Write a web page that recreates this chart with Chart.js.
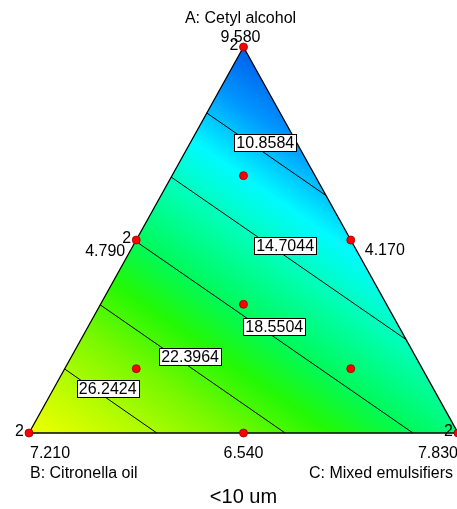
<!DOCTYPE html>
<html>
<head>
<meta charset="utf-8">
<title>&lt;10 um</title>
<script src="https://cdn.jsdelivr.net/npm/chart.js@4.4.1/dist/chart.umd.min.js"></script>
<style>
  html, body { margin: 0; padding: 0; background: #fff; }
  #chart { display: block; }
</style>
</head>
<body>
<canvas id="chart" width="457" height="509"></canvas>
<script>
// Mixture components (A at top, B bottom-left, C bottom-right)
const COMPONENTS = ["A: Cetyl alcohol", "B: Citronella oil", "C: Mixed emulsifiers"];
const RESPONSE_TITLE = "<10 um";

// Axis tick text: A max, A half, B max, B-C mid, C max, A-C mid
const TICK_TEXT = ["9.580", "4.790", "7.210", "6.540", "7.830", "4.170"];

// Linear model response at the pure-component vertices (A, B, C)
const VERTEX_RESPONSE = [6.89, 30.09, 17.2];

// Contour levels and where each one meets the triangle edges (A, B, C fractions)
const CONTOUR_LEVELS = [10.8584, 14.7044, 18.5504, 22.3964, 26.2424];
const CONTOUR_START = [
  [0.829, 0.171, 0],
  [0.663, 0.337, 0],
  [0.497, 0.503, 0],
  [0.332, 0.668, 0],
  [0.166, 0.834, 0],
];
const CONTOUR_END = [
  [0.615, 0, 0.385],
  [0.242, 0, 0.758],
  [0, 0.105, 0.895],
  [0, 0.403, 0.597],
  [0, 0.702, 0.298],
];

// Design points (A, B, C fractions) and how many runs sit on each
const DESIGN_POINTS = [
  [1, 0, 0], [0, 1, 0], [0, 0, 1],
  [0.5, 0.5, 0], [0.5, 0, 0.5], [0, 0.5, 0.5],
  [1 / 3, 1 / 3, 1 / 3],
  [2 / 3, 1 / 6, 1 / 6], [1 / 6, 2 / 3, 1 / 6], [1 / 6, 1 / 6, 2 / 3],
];
const REPLICATES = [2, 2, 2, 2, 1, 1, 1, 1, 1, 1];

// styling
const FONT = "'Liberation Sans', Arial, sans-serif";
const COLOR_STOPS = [
  [6.89, "rgb(0,95,235)"],
  [9.5, "rgb(0,150,255)"],
  [12.5, "rgb(0,250,255)"],
  [15.0, "rgb(0,255,185)"],
  [18.5, "rgb(0,250,90)"],
  [21.0, "rgb(35,248,5)"],
  [24.0, "rgb(120,248,0)"],
  [27.0, "rgb(185,252,0)"],
  [30.09, "rgb(240,255,0)"],
];
const LABEL_POS = [0.49, 0.485, 0.5, 0.486, 0.467]; // fraction along each contour

// ternary (A,B,C) -> plane: B at (0,0), C at (1,0), A at (0.5,1)
const toXY = (t) => ({ x: t[2] + t[0] / 2, y: t[0] });

const pixelOf = (chart, t) => {
  const p = toXY(t);
  return [chart.scales.x.getPixelForValue(p.x), chart.scales.y.getPixelForValue(p.y)];
};

const trianglePath = (ctx, chart) => {
  const a = pixelOf(chart, [1, 0, 0]);
  const b = pixelOf(chart, [0, 1, 0]);
  const c = pixelOf(chart, [0, 0, 1]);
  ctx.beginPath();
  ctx.moveTo(a[0], a[1]);
  ctx.lineTo(b[0], b[1]);
  ctx.lineTo(c[0], c[1]);
  ctx.closePath();
};

// shaded response surface: linear model, so a linear gradient across the triangle
const surfacePlugin = {
  id: "surface",
  beforeDatasetsDraw(chart) {
    const ctx = chart.ctx;
    const P = [pixelOf(chart, [1, 0, 0]), pixelOf(chart, [0, 1, 0]), pixelOf(chart, [0, 0, 1])];
    const f = VERTEX_RESPONSE;
    const [x1, y1] = P[0], [x2, y2] = P[1], [x3, y3] = P[2];
    const det = (x2 - x1) * (y3 - y1) - (x3 - x1) * (y2 - y1);
    const ga = ((f[1] - f[0]) * (y3 - y1) - (f[2] - f[0]) * (y2 - y1)) / det;
    const gb = ((x2 - x1) * (f[2] - f[0]) - (x3 - x1) * (f[1] - f[0])) / det;
    const g2 = ga * ga + gb * gb;
    const vmin = Math.min(...f), vmax = Math.max(...f);
    const start = P[f.indexOf(vmin)];
    const k = (vmax - vmin) / g2;
    const grad = ctx.createLinearGradient(start[0], start[1], start[0] + ga * k, start[1] + gb * k);
    COLOR_STOPS.forEach(([v, col]) => {
      const s = Math.min(1, Math.max(0, (v - vmin) / (vmax - vmin)));
      grad.addColorStop(s, col);
    });
    ctx.save();
    trianglePath(ctx, chart);
    ctx.fillStyle = grad;
    ctx.fill();
    ctx.restore();
  },
  afterDatasetsDraw(chart) {
    const ctx = chart.ctx;
    ctx.save();
    ctx.font = "16px " + FONT;
    ctx.textAlign = "center";
    ctx.textBaseline = "middle";
    CONTOUR_LEVELS.forEach((lvl, i) => {
      const s = pixelOf(chart, CONTOUR_START[i]);
      const e = pixelOf(chart, CONTOUR_END[i]);
      const fr = LABEL_POS[i];
      const cx = s[0] + (e[0] - s[0]) * fr;
      const cy = s[1] + (e[1] - s[1]) * fr - 10.5;
      const txt = lvl.toFixed(4);
      const w = Math.round(ctx.measureText(txt).width + 4);
      const h = 17;
      const bx = Math.round(cx - w / 2) + 0.5, by = Math.round(cy - h / 2) + 0.5;
      ctx.fillStyle = "#fff";
      ctx.fillRect(bx, by, w, h);
      ctx.strokeStyle = "#000";
      ctx.lineWidth = 1;
      ctx.strokeRect(bx, by, w, h);
      ctx.fillStyle = "#000";
      ctx.fillText(txt, cx, cy + 1);
    });
    ctx.restore();
  },
  afterDraw(chart) {
    const ctx = chart.ctx;
    const W = chart.width;
    const A = pixelOf(chart, [1, 0, 0]);
    const B = pixelOf(chart, [0, 1, 0]);
    const AB = pixelOf(chart, [0.5, 0.5, 0]);
    const AC = pixelOf(chart, [0.5, 0, 0.5]);
    const BC = pixelOf(chart, [0, 0.5, 0.5]);
    ctx.save();
    ctx.fillStyle = "#000";
    ctx.textBaseline = "alphabetic";
    ctx.font = "16px " + FONT;

    // component names and tick text
    ctx.textAlign = "center";
    ctx.fillText(COMPONENTS[0], A[0] - 3, 23);
    ctx.fillText(TICK_TEXT[0], A[0] - 3, 42);
    ctx.fillText(TICK_TEXT[3], BC[0], 458);
    ctx.textAlign = "right";
    ctx.fillText(TICK_TEXT[1], AB[0] - 11, 256);
    ctx.fillText(TICK_TEXT[4], W + 1, 458);
    ctx.textAlign = "left";
    ctx.fillText(TICK_TEXT[5], AC[0] + 14, 255);
    ctx.fillText(TICK_TEXT[2], B[0] + 1, 458);
    ctx.fillText(COMPONENTS[1], B[0] + 1, 478);
    ctx.fillText(COMPONENTS[2], 309, 478);

    // replicate counts next to design points
    ctx.textAlign = "right";
    DESIGN_POINTS.forEach((t, i) => {
      if (REPLICATES[i] < 2) return;
      const p = pixelOf(chart, t);
      ctx.fillText(String(REPLICATES[i]), p[0] - 5, p[1] + 3);
    });

    // response name
    ctx.textAlign = "center";
    ctx.font = "20px " + FONT;
    ctx.fillText(RESPONSE_TITLE, A[0], 503);
    ctx.restore();
  },
};

const datasets = [
  {
    label: "Design points",
    data: DESIGN_POINTS.map(toXY),
    pointRadius: 4,
    pointHoverRadius: 4,
    backgroundColor: "#ff0000",
    borderColor: "#9b0000",
    borderWidth: 0.8,
    showLine: false,
    clip: false,
  },
  {
    label: "Outline",
    data: [[1, 0, 0], [0, 1, 0], [0, 0, 1], [1, 0, 0]].map(toXY),
    showLine: true,
    pointRadius: 0,
    borderColor: "#000",
    borderWidth: 1.3,
    clip: false,
  },
];
CONTOUR_LEVELS.forEach((lvl, i) => {
  datasets.push({
    label: String(lvl),
    data: [toXY(CONTOUR_START[i]), toXY(CONTOUR_END[i])],
    showLine: true,
    pointRadius: 0,
    borderColor: "#000",
    borderWidth: 1,
    clip: false,
  });
});

new Chart(document.getElementById("chart").getContext("2d"), {
  type: "scatter",
  data: { datasets },
  options: {
    responsive: false,
    animation: false,
    devicePixelRatio: 1,
    layout: { padding: 0, autoPadding: false },
    plugins: {
      legend: { display: false },
      tooltip: { enabled: false },
      title: { display: false },
    },
    scales: {
      x: { type: "linear", display: false, min: -29 / 429, max: 428 / 429 },
      y: { type: "linear", display: false, min: -76 / 386, max: 433 / 386 },
    },
  },
  plugins: [surfacePlugin],
});
</script>
</body>
</html>
